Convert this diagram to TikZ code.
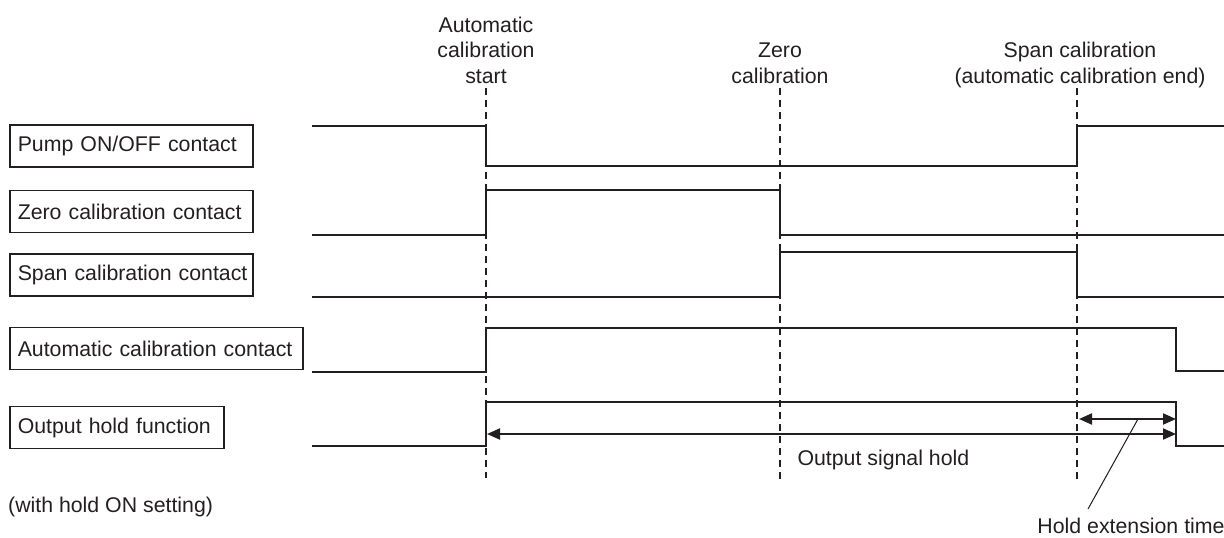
\documentclass[tikz,border=0pt]{standalone}
\usepackage{fontspec}
\setmainfont{Liberation Sans}
\usetikzlibrary{arrows.meta}
\definecolor{ink}{HTML}{231F20}
\begin{document}
\begin{tikzpicture}[x=1pt,y=-1pt,
  every node/.style={font=\fontsize{21.3}{25.5}\selectfont, text=ink},
  label box/.style={draw=ink, line width=1.5pt, anchor=west, minimum height=42pt, inner xsep=8pt, align=left},
  sig/.style={draw=ink, line width=2pt, line join=miter},
  guide/.style={draw=ink, line width=1.5pt, dash pattern=on 7pt off 5pt},
  dim/.style={draw=ink, line width=2pt, {Triangle[length=13pt,width=11pt]}-{Triangle[length=13pt,width=11pt]}},
  lead/.style={draw=ink, line width=1pt}]
\useasboundingbox (0,0) rectangle (1224,538);

% event times
\coordinate (tA1) at (486,88);  \coordinate (tA2) at (486,478);
\coordinate (tZ1) at (780,88);  \coordinate (tZ2) at (780,483);
\coordinate (tS1) at (1077,88); \coordinate (tS2) at (1077,483);

% top labels (anchor base = baseline of last line)
\node[anchor=base, align=center] (lstart) at (486,83) {Automatic\\calibration\\start};
\node[anchor=base, align=center] (lzero) at (780,83) {Zero\\calibration};
\node[anchor=base, align=center] (lspan) at (1080,83) {Span calibration\\(automatic calibration end)};

% row label boxes
\node[label box, text width=227pt] (bpump) at (9,146) {\mbox{Pump ON/OFF contact}};
\node[label box, text width=227pt] (bzero) at (9,211.5) {\mbox{Zero calibration contact}};
\node[label box, text width=227pt] (bspan) at (9,275) {\mbox{Span calibration contact}};
\node[label box, text width=277pt] (bauto) at (9,348.5) {\mbox{Automatic calibration contact}};
\node[label box, text width=198pt] (bhold) at (9,427.5) {\mbox{Output hold function}};

% guides
\draw[guide] (tA1) -- (tA2);
\draw[guide] (tZ1) -- (tZ2);
\draw[guide] (tS1) -- (tS2);

% waveforms
\draw[sig] (312,126) -- (486,126) -- (486,166) -- (1077,166) -- (1077,126) -- (1224,126);
\draw[sig] (312,235) -- (486,235) -- (486,190) -- (780,190) -- (780,235) -- (1224,235);
\draw[sig] (312,297) -- (780,297) -- (780,252) -- (1077,252) -- (1077,297) -- (1224,297);
\draw[sig] (312,372) -- (486,372) -- (486,328) -- (1176,328) -- (1176,371) -- (1224,371);
\draw[sig] (312,446) -- (486,446) -- (486,402) -- (1176,402) -- (1176,446) -- (1224,446);

% dimension arrows
\coordinate (hL) at (487,434); \coordinate (hR) at (1176,434);
\draw[dim] (hL) -- (hR);
\coordinate (eL) at (1079,419); \coordinate (eR) at (1176,419);
\draw[dim] (eL) -- (eR);

\node[anchor=base west] (lhold) at (794,465) {Output signal hold};
\node[anchor=base] (lext) at (1131,533) {Hold extension time};
\coordinate (ldTop) at (1138,419);
\coordinate (ldBot) at (1088,509);
\draw[lead] (ldTop) -- (ldBot);

\node[anchor=base west, inner xsep=0pt] (lnote) at (8,512) {(with hold ON setting)};
\end{tikzpicture}
\end{document}
